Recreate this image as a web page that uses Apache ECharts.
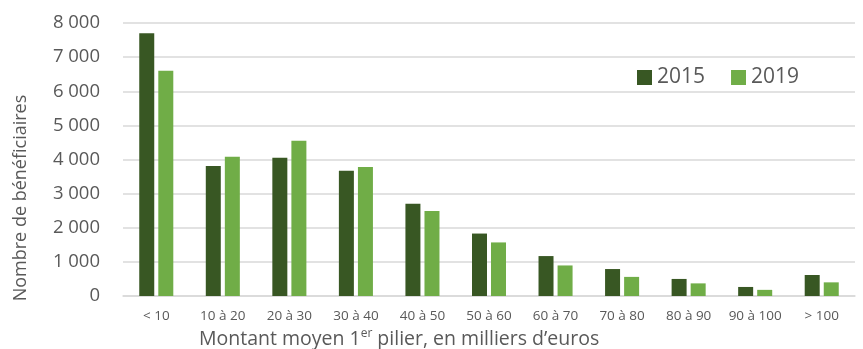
<!DOCTYPE html>
<html>
<head>
<meta charset="utf-8">
<script src="https://cdn.jsdelivr.net/npm/echarts@6/dist/echarts.min.js"></script>
<style>html,body{margin:0;padding:0;background:#fff}#c{width:863px;height:349px}</style>
</head>
<body>
<div id="c"></div>
<script>
const categories = ['< 10','10 à 20','20 à 30','30 à 40','40 à 50','50 à 60','60 à 70','70 à 80','80 à 90','90 à 100','> 100'];
const values2015 = [7700, 3810, 4050, 3670, 2700, 1830, 1170, 790, 500, 265, 615];
const values2019 = [6600, 4080, 4550, 3780, 2490, 1570, 895, 560, 370, 180, 400];
const seriesNames = ['2015', '2019'];
const yTicks = [0, 1000, 2000, 3000, 4000, 5000, 6000, 7000, 8000];

const FONT = '"Open Sans", sans-serif';
const TXT = '#595959';
const chart = echarts.init(document.getElementById('c'));
chart.setOption({
  animation: false,
  textStyle: { fontFamily: FONT },
  grid: { left: 123, right: 8, top: 23, bottom: 53 },
  legend: {
    left: 632, top: 62,
    itemWidth: 15, itemHeight: 15, itemGap: 26,
    icon: 'rect',
    textStyle: { fontSize: 21, color: TXT, fontFamily: FONT },
    data: seriesNames
  },
  xAxis: {
    type: 'category',
    data: categories,
    axisTick: { show: false },
    axisLine: { lineStyle: { color: '#d9d9d9', width: 1.5 } },
    axisLabel: { color: TXT, fontSize: 13.5, margin: 13, interval: 0, fontFamily: FONT }
  },
  yAxis: {
    type: 'value',
    min: yTicks[0], max: yTicks[yTicks.length - 1], interval: 1000,
    axisLine: { show: false },
    axisTick: { show: false },
    splitLine: { lineStyle: { color: '#d9d9d9', width: 1.5 } },
    axisLabel: {
      color: TXT, fontSize: 18.5, margin: 23, fontFamily: FONT,
      formatter: v => String(v).replace(/\B(?=(\d{3})+(?!\d))/g, ' ')
    }
  },
  graphic: [
    {
      type: 'text',
      x: 21, y: 198,
      rotation: Math.PI / 2,
      style: {
        text: 'Nombre de bénéficiaires',
        fill: TXT, fontSize: 18, fontFamily: FONT,
        align: 'center', verticalAlign: 'middle'
      }
    },
    {
      type: 'text',
      x: 199, y: 339,
      style: {
        text: 'Montant moyen 1{sup|er} pilier, en milliers d\u2019euros',
        fill: TXT, fontSize: 19.5, fontFamily: FONT,
        align: 'left', verticalAlign: 'middle',
        rich: {
          sup: { fontSize: 12, fill: TXT, fontFamily: FONT, padding: [0, 0, 10, 0] }
        }
      }
    }
  ],
  series: [
    {
      name: seriesNames[0], type: 'bar', data: values2015,
      barWidth: 15, barGap: '27%',
      itemStyle: { color: '#385723' }
    },
    {
      name: seriesNames[1], type: 'bar', data: values2019,
      barWidth: 15,
      itemStyle: { color: '#70ad47' }
    }
  ]
});
</script>
</body>
</html>
